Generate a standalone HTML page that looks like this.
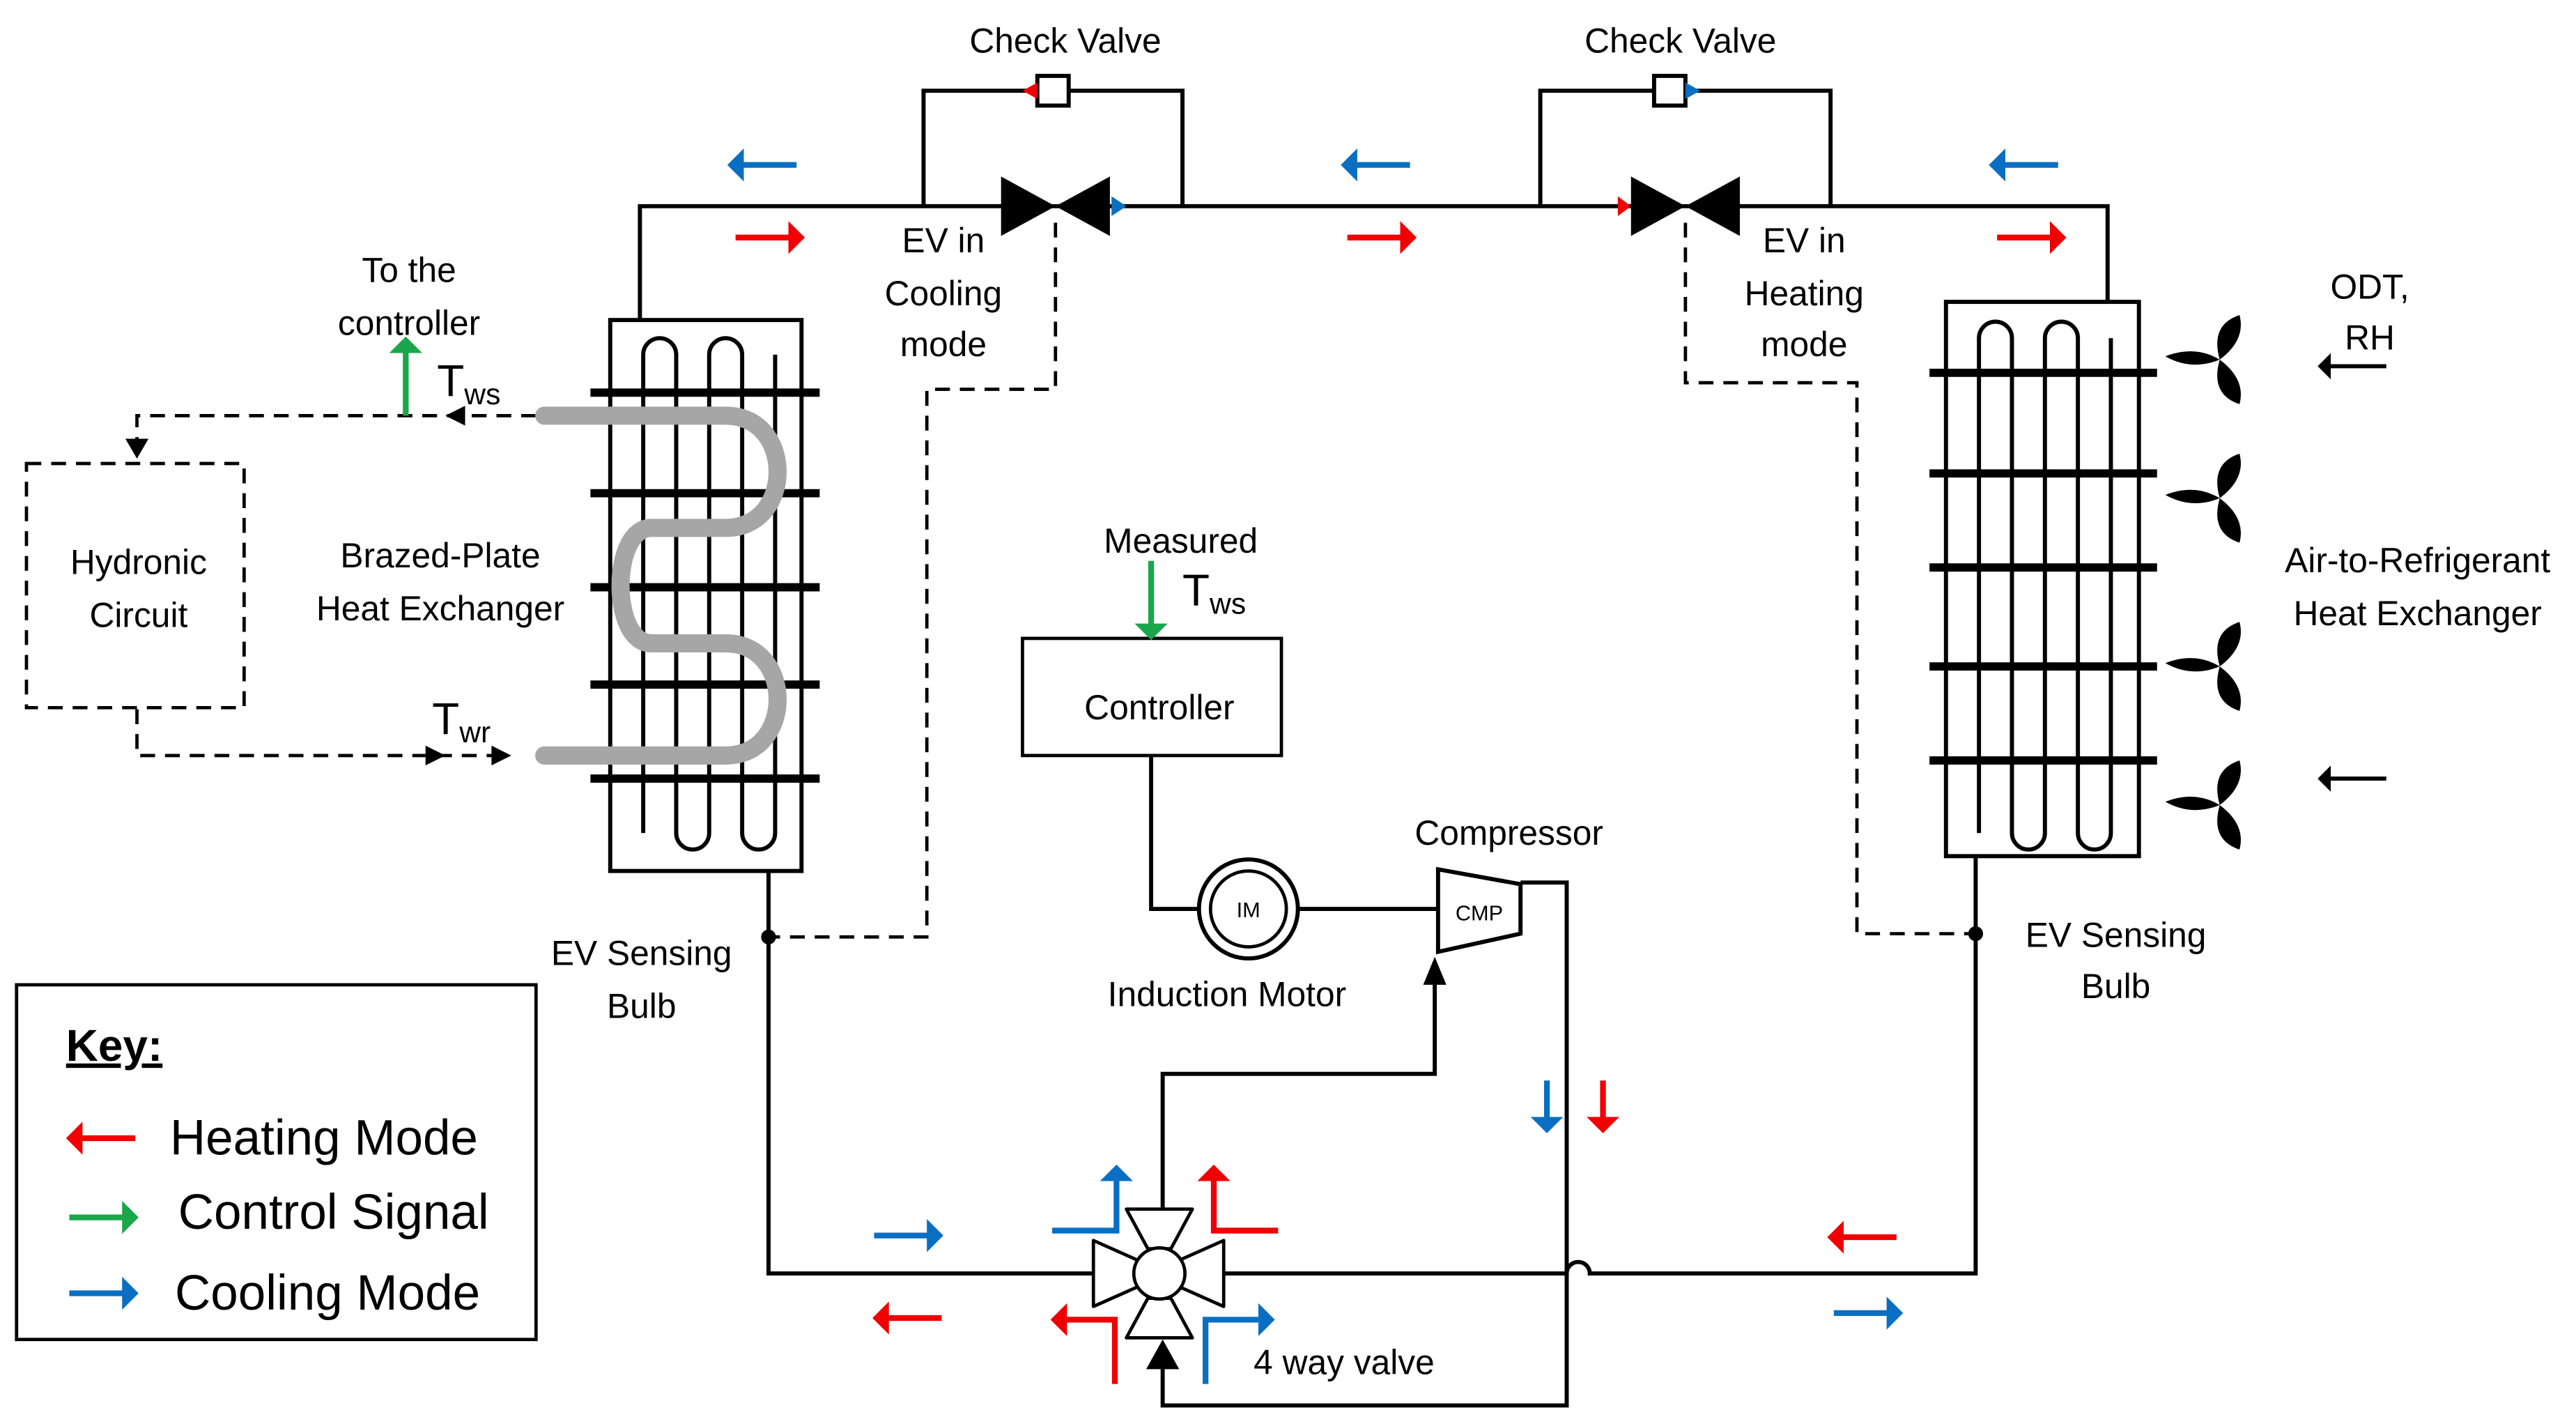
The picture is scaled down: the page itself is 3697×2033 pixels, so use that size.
<!DOCTYPE html>
<html><head><meta charset="utf-8"><style>
html,body{margin:0;padding:0;background:#fff;}
svg{display:block;}
text{font-family:"Liberation Sans",sans-serif;fill:#000;}
</style></head><body>
<svg width="3697" height="2033" viewBox="0 0 1562 859" xmlns="http://www.w3.org/2000/svg">
<defs>
<marker id="ar" viewBox="0 0 10 20" refX="8" refY="10" markerWidth="10" markerHeight="20" markerUnits="userSpaceOnUse" orient="auto"><path d="M0,0L10,10L0,20z" fill="#f00000"/></marker>
<marker id="ab" viewBox="0 0 10 20" refX="8" refY="10" markerWidth="10" markerHeight="20" markerUnits="userSpaceOnUse" orient="auto"><path d="M0,0L10,10L0,20z" fill="#0a6fc2"/></marker>
<marker id="ag" viewBox="0 0 10 20" refX="8" refY="10" markerWidth="10" markerHeight="20" markerUnits="userSpaceOnUse" orient="auto"><path d="M0,0L10,10L0,20z" fill="#1aa64a"/></marker>
<marker id="ak" viewBox="0 0 10 20" refX="8" refY="10" markerWidth="8" markerHeight="16" markerUnits="userSpaceOnUse" orient="auto"><path d="M0,0L10,10L0,20z" fill="#000"/></marker>
</defs>
<g fill="none" stroke="#000" stroke-width="2.5">
<path d="M388,195V125H1278V183"/>
<path d="M560,125V55H717V125M934,125V55H1110V125"/>
<path d="M466,528V772H663M742,772H950a7,7 0 0 1 14,0H1198V520"/>
<path d="M922,535H950V852H705V828"/>
<path d="M705,733V651H870V592"/>
<path d="M698,458V551H727M787,551H872"/>
</g>
<rect x="629" y="46" width="19" height="18" fill="#fff" stroke="#000" stroke-width="2.5"/>
<rect x="1003" y="46" width="19" height="18" fill="#fff" stroke="#000" stroke-width="2.5"/>
<path d="M620,55l9,-5v10z" fill="#f00000"/><path d="M1031,55l-9,-5v10z" fill="#0a6fc2"/>
<path d="M607,107L640,125L607,143z M673,107L640,125L673,143z" fill="#000"/>
<path d="M989,107L1022,125L989,143z M1055,107L1022,125L1055,143z" fill="#000"/>
<path d="M683,125l-9,-6v12z" fill="#0a6fc2"/><path d="M989,125l-8,-6v12z" fill="#f00000"/>
<g fill="none" stroke="#000" stroke-width="2" stroke-dasharray="9,6">
<path d="M640,135V236H562V568H466"/>
<path d="M1022,135V232H1126V566H1198"/>
<path d="M325,252H83V278"/>
<path d="M83,430V458H310"/>
<rect x="16" y="281" width="132" height="148"/>
</g>
<circle cx="466" cy="568" r="4.5"/><circle cx="1198" cy="566" r="4.5"/>
<path d="M76,266l7,12l7,-12z M258,452l12,6l-12,6z M298,452l12,6l-12,6z M270,252l12,-6v12z"/>
<g fill="none" stroke="#000" stroke-width="2.5">
<rect x="370" y="194" width="116" height="334"/>
<path d="M390,505V215a10,10 0 0 1 20,0V505a10,10 0 0 0 20,0V215a10,10 0 0 1 20,0V505a10,10 0 0 0 20,0V215"/>
</g>
<g stroke="#000" stroke-width="5">
<path d="M358,238H497M358,299H497M358,356H497M358,415H497M358,472H497"/>
</g>
<path d="M330,252H440C482,252 482,320 440,320H395C370,320 370,390 395,390H440C482,390 482,458 440,458H330" fill="none" stroke="#a6a6a6" stroke-width="11" stroke-linecap="round"/>
<g fill="none" stroke="#000" stroke-width="2.5">
<rect x="1180" y="183" width="117" height="336"/>
<path d="M1200,505V205a10,10 0 0 1 20,0V505a10,10 0 0 0 20,0V205a10,10 0 0 1 20,0V505a10,10 0 0 0 20,0V205"/>
</g>
<g stroke="#000" stroke-width="5">
<path d="M1170,226H1308M1170,287H1308M1170,344H1308M1170,404H1308M1170,461H1308"/>
</g>
<defs>
<g id="fan">
<path d="M0,0Q-15,-9 -33,-2Q-17,7 0,0z"/>
<path d="M0,0Q-6,-21 12,-27Q16,-12 0,0z"/>
<path d="M0,0Q-6,21 12,27Q16,12 0,0z"/>
</g>
</defs>
<g fill="#000">
<use href="#fan" x="1346" y="218"/>
<use href="#fan" x="1346" y="302"/>
<use href="#fan" x="1346" y="404"/>
<use href="#fan" x="1346" y="488"/>
</g>
<g stroke="#000" stroke-width="2.5" marker-end="url(#ak)"><path d="M1447,222H1407"/><path d="M1447,472H1407"/></g>
<rect x="620" y="387" width="157" height="71" fill="#fff" stroke="#000" stroke-width="2"/>
<circle cx="757" cy="551" r="30" fill="#fff" stroke="#000" stroke-width="2.5"/>
<circle cx="757" cy="551" r="23" fill="none" stroke="#000" stroke-width="2"/>
<text x="757" y="556" font-size="13" text-anchor="middle">IM</text>
<path d="M872,527L922,536V566L872,577z" fill="#fff" stroke="#000" stroke-width="2.5"/>
<text x="897" y="558" font-size="13" text-anchor="middle">CMP</text>
<path d="M863,597l7,-17l7,17z M695,830l10,-18l10,18z"/>
<g fill="#fff" stroke="#000" stroke-width="2" stroke-linejoin="round">
<path d="M663,752V792L690,780V764z M742,752V792L715,780V764z M683,733H723L710,757H696z M683,811H723L710,787H696z"/>
<circle cx="703" cy="772" r="15.5"/>
</g>
<g fill="none" stroke-width="3.5">
<g stroke="#f00000" marker-end="url(#ar)">
<path d="M446,144H486"/><path d="M817,144H857"/><path d="M1211,144H1251"/>
<path d="M972,655V685"/><path d="M1150,750H1110"/><path d="M571,799H531"/>
<path d="M775,746H736V708"/><path d="M676,839V800H639"/>
<path d="M82,690H42"/>
</g>
<g stroke="#0a6fc2" marker-end="url(#ab)">
<path d="M483,100H443"/><path d="M855,100H815"/><path d="M1248,100H1208"/>
<path d="M938,655V685"/><path d="M1112,796H1152"/><path d="M530,749H570"/>
<path d="M638,746H677V708"/><path d="M731,839V800H771"/>
<path d="M42,784H82"/>
</g>
<g stroke="#1aa64a" marker-end="url(#ag)">
<path d="M246,252V206"/><path d="M698,340V386"/><path d="M42,738H82"/>
</g>
</g>
<g font-size="21" text-anchor="middle">
<text x="646" y="32">Check Valve</text>
<text x="1019" y="32">Check Valve</text>
<text x="572" y="153">EV in</text><text x="572" y="185">Cooling</text><text x="572" y="216">mode</text>
<text x="1094" y="153">EV in</text><text x="1094" y="185">Heating</text><text x="1094" y="216">mode</text>
<text x="248" y="171">To the</text><text x="248" y="203">controller</text>
<text x="84" y="348">Hydronic</text><text x="84" y="380">Circuit</text>
<text x="267" y="344">Brazed-Plate</text><text x="267" y="376">Heat Exchanger</text>
<text x="716" y="335">Measured</text>
<text x="703" y="436">Controller</text>
<text x="915" y="512">Compressor</text>
<text x="744" y="610">Induction Motor</text>
<text x="389" y="585">EV Sensing</text><text x="389" y="617">Bulb</text>
<text x="1283" y="574">EV Sensing</text><text x="1283" y="605">Bulb</text>
<text x="1437" y="181">ODT,</text><text x="1437" y="212">RH</text>
<text x="1466" y="347">Air-to-Refrigerant</text><text x="1466" y="379">Heat Exchanger</text>
<text x="815" y="833">4 way valve</text>
</g>
<g font-size="27">
<text x="265" y="240">T<tspan font-size="18" dy="5">ws</tspan></text>
<text x="717" y="367">T<tspan font-size="18" dy="5">ws</tspan></text>
<text x="262" y="445">T<tspan font-size="18" dy="5">wr</tspan></text>
</g>
<rect x="10" y="597" width="315" height="215" fill="none" stroke="#000" stroke-width="2"/>
<text x="40" y="643" font-size="27" font-weight="bold" text-decoration="underline">Key:</text>
<g font-size="30">
<text x="103" y="700">Heating Mode</text>
<text x="108" y="745">Control Signal</text>
<text x="106" y="794">Cooling Mode</text>
</g>
</svg>
</body></html>
